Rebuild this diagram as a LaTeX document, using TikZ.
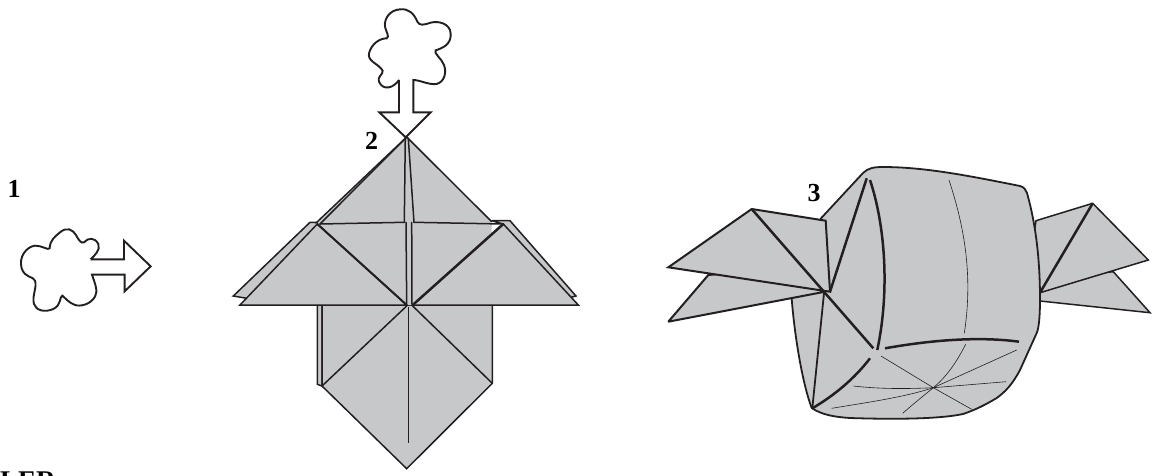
\documentclass[tikz,border=0pt]{standalone}
\usepackage{fontspec}
\setmainfont{Liberation Serif}
\definecolor{paper}{HTML}{C7C8CA}
\definecolor{ink}{HTML}{231F20}
\tikzset{
  fold/.style={draw=ink,line width=1.5pt,line join=miter,miter limit=3,fill=paper},
  edge/.style={draw=ink,line width=1.5pt,line cap=round},
  thick edge/.style={draw=ink,line width=2.5pt},
  thin edge/.style={draw=ink,line width=.6pt},
  hole/.style={draw=ink,line width=1.9pt,fill=white,line join=miter},
  lab/.style={font=\bfseries\fontsize{26}{26}\selectfont,inner sep=0pt,text=black}
}
\begin{document}
\begin{tikzpicture}[x=1pt,y=-1pt]
\useasboundingbox (0,0) rectangle (1157,475);
\clip (0,0) rectangle (1157,475);
% arrow 1
\begin{scope}[shift={(0,150)},x=.3333pt,y=-.3333pt]
\draw[hole] (272,328) -- (372,328) -- (372,272) -- (452,349) -- (374,424) -- (374,374) -- (276,374)
 .. controls (285,400) and (295,425) .. (285,440)
 .. controls (270,465) and (240,470) .. (225,465)
 .. controls (205,458) and (192,440) .. (187,437)
 .. controls (178,440) and (185,465) .. (160,477)
 .. controls (135,488) and (108,482) .. (102,462)
 .. controls (95,440) and (112,410) .. (105,392)
 .. controls (100,378) and (75,385) .. (65,355)
 .. controls (55,320) and (80,290) .. (105,287)
 .. controls (125,286) and (145,302) .. (149,295)
 .. controls (150,270) and (165,260) .. (180,247)
 .. controls (200,230) and (218,238) .. (228,255)
 .. controls (235,268) and (243,282) .. (252,277)
 .. controls (265,262) and (285,262) .. (295,282)
 .. controls (303,300) and (282,318) .. (272,328);
\end{scope}
% arrow 2
\begin{scope}[shift={(220,0)},x=.3333pt,y=-.3333pt]
\draw[hole] (537,240) -- (537,337) -- (478,337) -- (557,412) -- (632,337) -- (580,337) -- (580,240)
 .. controls (600,240) and (625,255) .. (650,252)
 .. controls (675,245) and (680,215) .. (672,195)
 .. controls (665,175) and (640,160) .. (647,151)
 .. controls (665,145) and (695,135) .. (692,100)
 .. controls (690,70) and (655,62) .. (632,68)
 .. controls (610,75) and (600,78) .. (592,65)
 .. controls (582,40) and (565,25) .. (540,28)
 .. controls (510,30) and (492,55) .. (495,80)
 .. controls (498,95) and (510,110) .. (500,115)
 .. controls (480,115) and (455,130) .. (447,160)
 .. controls (442,185) and (475,190) .. (488,212)
 .. controls (490,225) and (470,228) .. (478,247)
 .. controls (490,272) and (520,265) .. (537,240);
\end{scope}
% figure 2
\fill[fold] (233.3,296) -- (310,222.3) -- (318,222.3) -- (322,300) -- (245,298) -- cycle;
\fill[fold] (491.7,220.7) -- (510,220.7) -- (576,296) -- (560,300) -- (503,224) -- cycle;
\fill[fold] (317.3,305) -- (317.3,384.3) -- (322,386) -- (322,305) -- cycle;
\fill[fold] (322,305) -- (322,386) -- (406.7,468.7) -- (492.3,383.3) -- (492.3,305) -- cycle;
\fill[paper] (406.7,137) -- (317,223) -- (317,305) -- (492,305) -- (491.7,221.7) -- cycle;
\draw[edge] (406.7,137) -- (316,223);
\draw[edge] (406.7,137) -- (491.7,221.7);
\fill[fold] (240,305) -- (317.3,224) -- (406.7,305) -- cycle;
\fill[fold] (578.3,305) -- (503.3,224) -- (412.7,305) -- cycle;
\draw[edge] (406.7,137) -- (320,224);
\draw[edge] (405.3,137) -- (404.3,222.3);
\draw[edge] (408.3,138.3) -- (414,222.3);
\draw[edge] (320,224) -- (404.3,222.3);
\draw[edge] (414,222.3) -- (503.3,224);
\draw[edge] (406,222.3) -- (406.7,305);
\draw[edge] (411.7,222.3) -- (412,305);
\draw[edge] (406.7,306) -- (322,386);
\draw[edge] (412.7,306) -- (492.3,383.3);
\draw[thin edge,line width=.8pt] (408.3,306.7) -- (408.3,442.7);
\draw[thick edge,line width=2pt] (317.3,224) -- (406.7,305);
\draw[thick edge] (503.3,224) -- (412.7,305);
% figure 3: right wing
\fill[fold] (1113.3,271.7) -- (1150,312.7) -- (1040,301) -- (1030,280) -- cycle;
\fill[fold] (1036,220.7) -- (1092.7,203.3) -- (1148.3,260) -- (1040,292.7) -- (1030,260) -- cycle;
\draw[thick edge] (1092.7,203.3) -- (1040,292.7);
% body
\draw[fold,line width=1.8pt,line join=round] (821,218.3) -- (863,173)
 .. controls (868,168) and (874,167) .. (883,167)
 .. controls (925,167) and (970,176) .. (1020,186)
 .. controls (1024,187) and (1026,190) .. (1027,193)
 .. controls (1036,225) and (1040,260) .. (1040,300)
 .. controls (1040,315) and (1039,328) .. (1036.7,333)
 -- (1020,370)
 .. controls (1012,385) and (1005,392) .. (996.7,398)
 .. controls (985,405) and (975,410) .. (963,414)
 .. controls (935,420) and (880,419) .. (850,418)
 .. controls (835,417) and (822,415) .. (811.7,408)
 .. controls (803,385) and (795,340) .. (791.7,299)
 -- cycle;
% thin creases
\draw[thin edge] (949,180) .. controls (962,220) and (974,270) .. (964.3,333.3);
\draw[thin edge] (965.7,344.3) .. controls (955,365) and (945,378) .. (933.3,387.7) .. controls (922,397) and (912,405) .. (902.7,413.3);
\draw[thin edge] (881,356) -- (933.3,387.7) -- (971.7,409.3);
\draw[thin edge] (1016.7,350) -- (933.3,387.7) .. controls (905,397) and (870,402) .. (831.7,408.3);
\draw[thin edge] (1006,381.7) -- (933.3,387.7) .. controls (905,389) and (880,389) .. (853.3,386);
% thick folds
\draw[thick edge] (885,348.3) .. controls (915,343) and (970,335) .. (1019,341.7);
\draw[thick edge] (866.7,178.3) -- (830,291.7);
\draw[thick edge] (870,180) .. controls (885,225) and (890,290) .. (877.3,350);
\draw[thick edge] (812.3,408.3) .. controls (835,395) and (855,378) .. (870,358.3);
\draw[edge,line width=1.8pt] (824,293.3) -- (812.3,408.3);
% left wings
\fill[fold,line width=2pt] (708.3,275) -- (668.3,321.7) -- (825,291.7) -- (760,270) -- cycle;
\fill[fold,line width=2pt] (668.3,267.3) -- (751.7,209) -- (825.7,220.7) -- (830,291.7) -- cycle;
\draw[thick edge] (751.7,209) -- (873.3,348.3);
% labels
\node[lab] (one) at (14,188.5) {1};
\node[lab] (two) at (371.5,141) {2};
\node[lab] (three) at (814,193) {3};
\node[lab,font=\bfseries\fontsize{27}{27}\selectfont,anchor=base west] (cut) at (0,489) {LER};
\end{tikzpicture}
\end{document}
